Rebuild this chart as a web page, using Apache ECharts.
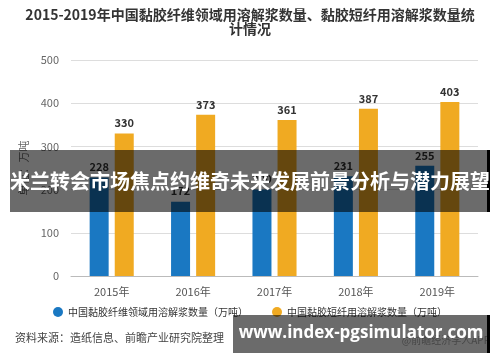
<!DOCTYPE html>
<html><head><meta charset="utf-8">
<script src="https://cdn.jsdelivr.net/npm/echarts@6/dist/echarts.min.js"></script>
<style>html,body{margin:0;padding:0;background:#fff}#c{width:500px;height:362px}</style>
</head><body><div id="c"></div>
<script>
var categories = ['2015年','2016年','2017年','2018年','2019年'];
var fiberPulp = [228, 172, 200, 231, 255];
var staplePulp = [330, 373, 361, 387, 403];
var seriesNames = ['中国黏胶纤维领域用溶解浆数量（万吨）','中国黏胶短纤用溶解浆数量（万吨）'];
var titleLines = ['2015-2019年中国黏胶纤维领域用溶解浆数量、黏胶短纤用溶解浆数量统','计情况'];
var yTicks = {min:0, max:500, interval:100};
var F = '"Noto Sans CJK SC","Noto Sans",sans-serif';
var chart = echarts.init(document.getElementById('c'));
chart.setOption({
  animation:false,
  textStyle:{fontFamily:F},
  grid:{left:71,right:22,top:60,bottom:86},
  legend:{bottom:40,left:48,icon:'circle',itemWidth:10,itemHeight:10,itemGap:24,
    textStyle:{fontSize:10,color:'#333',fontFamily:F}},
  xAxis:{type:'category',data:categories,
    axisLine:{lineStyle:{color:'#bbb'}},axisTick:{alignWithLabel:true,lineStyle:{color:'#bbb'}},
    axisLabel:{color:'#555',fontSize:11,margin:10}},
  yAxis:{type:'value',min:yTicks.min,max:yTicks.max,interval:yTicks.interval,
    name:'单位：万吨',nameLocation:'middle',nameGap:40,nameRotate:90,
    nameTextStyle:{color:'#666',fontSize:11},
    axisLine:{show:false},axisTick:{show:false},
    axisLabel:{color:'#666',fontSize:11,margin:12},
    splitLine:{lineStyle:{color:'#ddd'}}},
  series:[
    {name:seriesNames[0],type:'bar',data:fiberPulp,barWidth:19,barGap:'32%',
     itemStyle:{color:'#1a78c2'},
     label:{show:true,position:'top',color:'#333',fontWeight:'bold',fontSize:11}},
    {name:seriesNames[1],type:'bar',data:staplePulp,barWidth:19,
     itemStyle:{color:'#f0aa22'},
     label:{show:true,position:'top',color:'#333',fontWeight:'bold',fontSize:11}}
  ],
  graphic:[
    {type:'text',x:250,y:15,style:{text:titleLines[0],fontSize:14,fontWeight:'bold',fill:'#333',align:'center',verticalAlign:'middle',fontFamily:F}},
    {type:'text',x:250,y:29,style:{text:titleLines[1],fontSize:14,fontWeight:'bold',fill:'#333',align:'center',verticalAlign:'middle',fontFamily:F}},
    {type:'text',left:15,top:332,style:{text:'资料来源：造纸信息、前瞻产业研究院整理',fontSize:11,fill:'#444',fontFamily:F}},
    {type:'text',right:10,top:335,style:{text:'@前瞻经济学人APP',fontSize:10,fill:'#aaa',fontFamily:F}},
    {type:'rect',shape:{x:10,y:150,width:480,height:62},style:{fill:'rgba(0,0,0,0.58)'},z:100},
    {type:'rect',shape:{x:487,y:150,width:3,height:62},style:{fill:'#000'},z:101},
    {type:'text',x:250,y:181,style:{text:'米兰转会市场焦点约维奇未来发展前景分析与潜力展望',fontSize:20,fontWeight:'bold',fill:'#fff',
      align:'center',verticalAlign:'middle',fontFamily:F},z:102},
    {type:'rect',shape:{x:233,y:315,width:257,height:38},style:{fill:'rgba(0,0,0,0.58)'},z:100},
    {type:'rect',shape:{x:487,y:315,width:3,height:38},style:{fill:'#000'},z:101},
    {type:'text',x:361,y:333,style:{text:'www.index-pgsimulator.com',fontSize:17,fontWeight:'bold',fill:'#fff',
      align:'center',verticalAlign:'middle',fontFamily:'"Open Sans","DejaVu Sans",sans-serif'},z:102}
  ]
});
</script></body></html>
